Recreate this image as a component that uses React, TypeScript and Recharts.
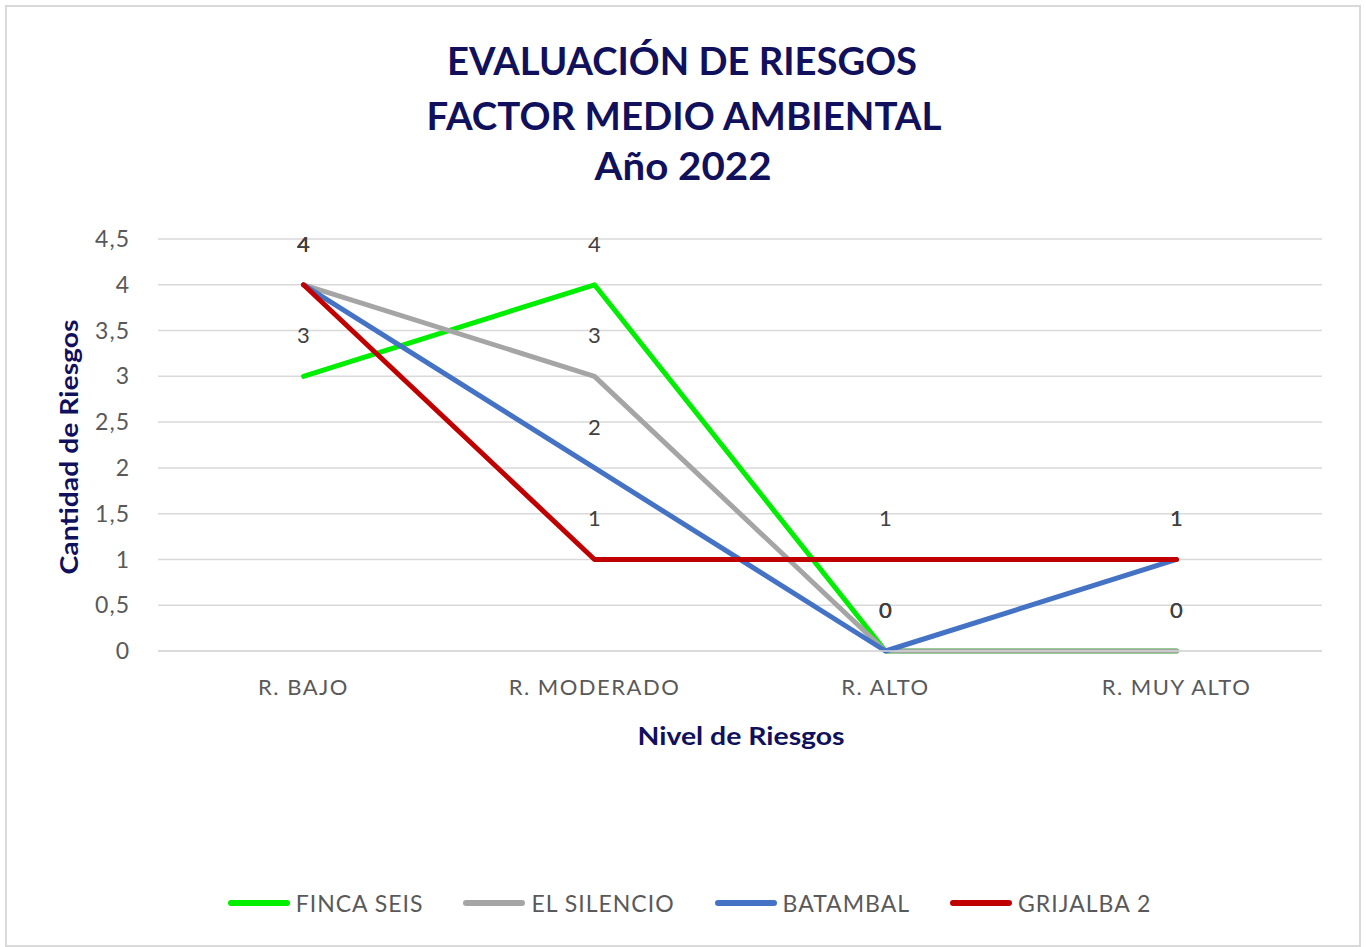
import { LineChart, Line, XAxis, YAxis, CartesianGrid, LabelList } from 'recharts'

const categories = ['R. BAJO', 'R. MODERADO', 'R. ALTO', 'R. MUY ALTO']
const fincaSeis = [3, 4, 0, 0]
const elSilencio = [4, 3, 0, 0]
const batambal = [4, 2, 0, 1]
const grijalba2 = [4, 1, 1, 1]
const yTicks = [0, 0.5, 1, 1.5, 2, 2.5, 3, 3.5, 4, 4.5]

const titleLines = ['EVALUACIÓN DE RIESGOS', 'FACTOR MEDIO AMBIENTAL', 'Año 2022']

const series = [
  { key: 'fincaSeis', name: 'FINCA SEIS', color: '#00ee00' },
  { key: 'elSilencio', name: 'EL SILENCIO', color: '#a5a5a5' },
  { key: 'batambal', name: 'BATAMBAL', color: '#4472c4' },
  { key: 'grijalba2', name: 'GRIJALBA 2', color: '#c00000' },
]

const data = categories.map((name, i) => ({
  name,
  fincaSeis: fincaSeis[i],
  elSilencio: elSilencio[i],
  batambal: batambal[i],
  grijalba2: grijalba2[i],
}))

const NAVY = '#10105c'
const FONT = 'Lato, "Open Sans", sans-serif'

export default function App() {
  return (
    <div style={{ position: 'absolute', left: 0, top: 0, width: 1366, height: 947, background: '#fff', fontFamily: FONT }}>
      {/* frame */}
      <div
        style={{
          position: 'absolute',
          left: 5,
          top: 5,
          width: 1352,
          height: 938,
          border: '2px solid #d9d9d9',
        }}
      />
      <LineChart
        width={1366}
        height={947}
        data={data}
        margin={{ top: 239, right: 44, bottom: 236, left: 58 }}
        style={{ position: 'absolute', left: 0, top: 0 }}
      >
        <CartesianGrid vertical={false} stroke="#d9d9d9" strokeWidth={1.5} />
        <XAxis
          dataKey="name"
          scale="band"
          tickLine={false}
          axisLine={{ stroke: '#d9d9d9', strokeWidth: 1.5 }}
          tickSize={0}
          tickMargin={28}
          tick={{ fontSize: 22, fill: '#595959', fontFamily: FONT, letterSpacing: 1.5 }}
          height={60}
        />
        <YAxis
          domain={[0, 4.5]}
          ticks={yTicks}
          width={100}
          tickLine={false}
          axisLine={false}
          tickSize={0}
          tickMargin={28}
          tick={{ fontSize: 23, fill: '#595959', fontFamily: FONT, letterSpacing: 1 }}
          tickFormatter={(v) => String(v).replace('.', ',')}
        />
        {series.map((s) => (
          <Line
            key={s.key}
            dataKey={s.key}
            name={s.name}
            type="linear"
            stroke={s.color}
            strokeWidth={5}
            strokeLinecap="round"
            strokeLinejoin="round"
            dot={false}
            activeDot={false}
            isAnimationActive={false}
          >
            <LabelList
              dataKey={s.key}
              position="top"
              offset={33}
              style={{ fontSize: 22, fill: '#404040', fontFamily: FONT }}
            />
          </Line>
        ))}
      </LineChart>

      <svg width={1366} height={947} style={{ position: 'absolute', left: 0, top: 0, pointerEvents: 'none' }}>
        <g fontFamily={FONT} fontWeight={700} fill={NAVY} textAnchor="middle">
          <text x={682} y={75} fontSize={38} textLength={470} lengthAdjust="spacingAndGlyphs">
            {titleLines[0]}
          </text>
          <text x={684} y={130} fontSize={38} textLength={515} lengthAdjust="spacingAndGlyphs">
            {titleLines[1]}
          </text>
          <text x={683} y={180} fontSize={38} textLength={177} lengthAdjust="spacingAndGlyphs">
            {titleLines[2]}
          </text>
          <text x={741} y={745} fontSize={24} textLength={207} lengthAdjust="spacingAndGlyphs">
            Nivel de Riesgos
          </text>
          <text
            x={0}
            y={0}
            fontSize={24}
            textLength={255}
            lengthAdjust="spacingAndGlyphs"
            transform="translate(78 447) rotate(-90)"
          >
            Cantidad de Riesgos
          </text>
        </g>
      </svg>

      {/* legend */}
      <div
        style={{
          position: 'absolute',
          left: 0,
          top: 888,
          width: 1379,
          display: 'flex',
          justifyContent: 'center',
          gap: 40,
          fontSize: 23,
          letterSpacing: 1,
          color: '#595959',
          lineHeight: '30px',
        }}
      >
        {series.map((s) => (
          <div key={s.key} style={{ display: 'flex', alignItems: 'center', gap: 6 }}>
            <span style={{ display: 'inline-block', width: 62, height: 6, borderRadius: 3, background: s.color }} />
            <span>{s.name}</span>
          </div>
        ))}
      </div>
    </div>
  )
}
